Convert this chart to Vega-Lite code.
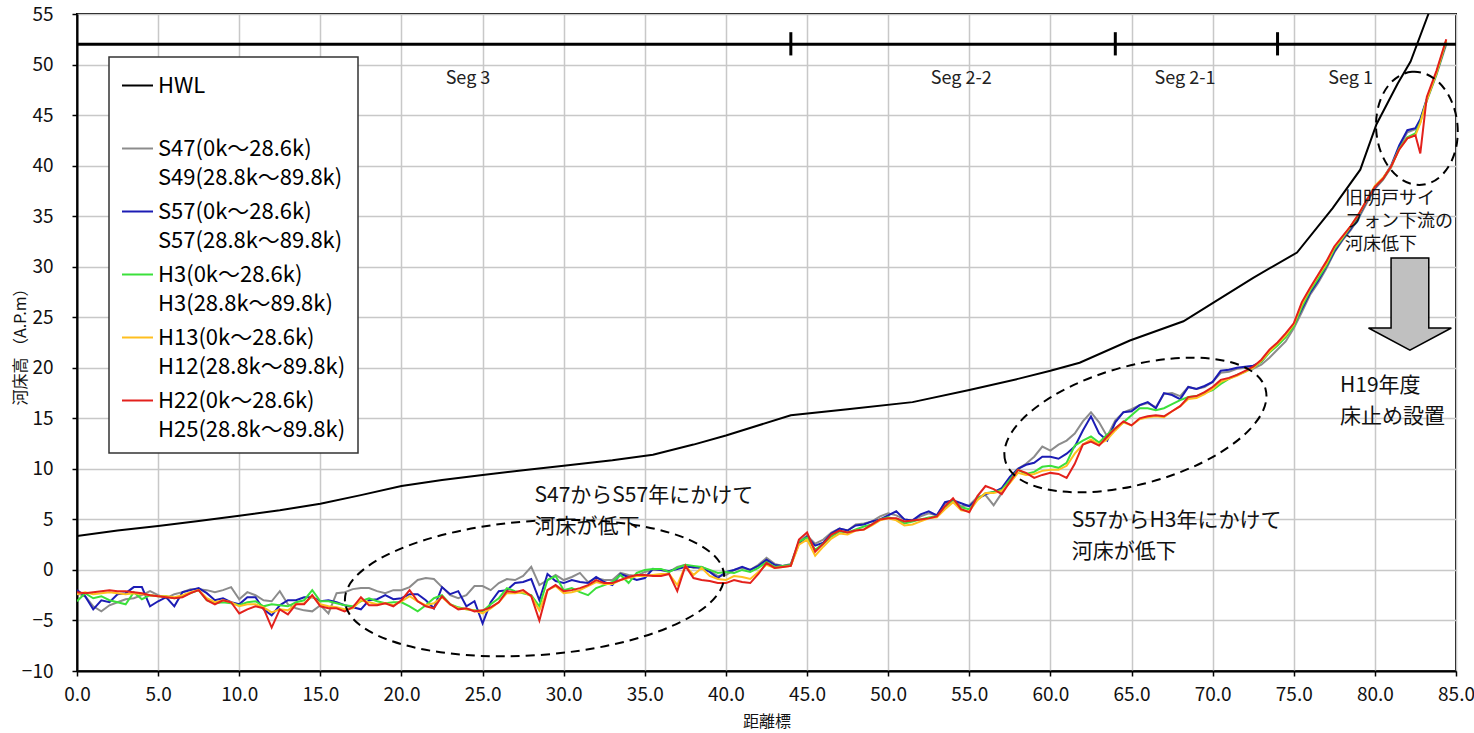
{
  "$schema": "https://vega.github.io/schema/vega-lite/v6.json",
  "width": 1379,
  "height": 657,
  "autosize": {"type": "none"},
  "padding": {"left": 77, "top": 14, "right": 18, "bottom": 62},
  "background": "white",
  "config": {
    "view": {"stroke": "#000", "strokeWidth": 2},
    "font": "Noto Sans CJK JP",
    "axis": {
      "grid": true, "gridColor": "#c8c8c8", "gridWidth": 1.5,
      "domainColor": "#000", "domainWidth": 2,
      "tickColor": "#000", "tickWidth": 1.5, "tickSize": 5,
      "labelFont": "Noto Sans CJK JP", "labelFontSize": 19, "labelColor": "#111",
      "labelFlush": false, "labelOverlap": false,
      "titleFont": "Noto Sans CJK JP", "titleFontSize": 15, "titleFontWeight": "normal", "titleColor": "#111"
    },
    "legend": {"strokeColor": "#333", "strokeWidth": 1.5, "fillColor": "#ffffff", "padding": 12},
    "style": {"guide-label": {"lineHeight": 29}}
  },
  "datasets": {
    "profiles": [
      {"x": 0, "HWL": 3.35}, {"x": 2.5, "HWL": 3.9}, {"x": 5, "HWL": 4.35}, {"x": 7.5, "HWL": 4.85},
      {"x": 10, "HWL": 5.35}, {"x": 12.5, "HWL": 5.9}, {"x": 15, "HWL": 6.55}, {"x": 17.5, "HWL": 7.4},
      {"x": 20, "HWL": 8.3}, {"x": 22.5, "HWL": 8.9}, {"x": 25, "HWL": 9.4}, {"x": 27.5, "HWL": 9.85},
      {"x": 30, "HWL": 10.3}, {"x": 33, "HWL": 10.85}, {"x": 35.5, "HWL": 11.4}, {"x": 38, "HWL": 12.4},
      {"x": 40, "HWL": 13.3}, {"x": 44, "HWL": 15.3}, {"x": 47.5, "HWL": 15.9}, {"x": 51.5, "HWL": 16.6},
      {"x": 55, "HWL": 17.8}, {"x": 58, "HWL": 18.9}, {"x": 60, "HWL": 19.7}, {"x": 61.8, "HWL": 20.5},
      {"x": 64.9, "HWL": 22.7}, {"x": 68.2, "HWL": 24.6}, {"x": 70, "HWL": 26.4}, {"x": 72.5, "HWL": 28.9},
      {"x": 75.2, "HWL": 31.4}, {"x": 77.4, "HWL": 35.8}, {"x": 79.1, "HWL": 39.6}, {"x": 80.1, "HWL": 44.1},
      {"x": 81.4, "HWL": 48.1}, {"x": 82.2, "HWL": 50.3}, {"x": 83.3, "HWL": 55.0}, {"x": 83.7, "HWL": 56.5},
      {"x": 0.0, "S47": -2.3, "S57": -2.0, "H3": -3.1, "H13": -2.4, "H22": -2.2},
      {"x": 0.5, "S47": -2.6, "S57": -2.6, "H3": -2.3, "H13": -2.2, "H22": -2.3},
      {"x": 1.0, "S47": -3.6, "S57": -3.9, "H3": -2.8, "H13": -2.4, "H22": -2.2},
      {"x": 1.5, "S47": -4.1, "S57": -3.0, "H3": -2.6, "H13": -2.3, "H22": -2.1},
      {"x": 2.0, "S47": -3.5, "S57": -3.2, "H3": -3.0, "H13": -2.2, "H22": -2.0},
      {"x": 2.5, "S47": -3.2, "S57": -2.4, "H3": -3.2, "H13": -2.3, "H22": -2.1},
      {"x": 3.0, "S47": -2.9, "S57": -2.3, "H3": -3.4, "H13": -2.4, "H22": -2.1},
      {"x": 3.5, "S47": -2.8, "S57": -1.7, "H3": -2.2, "H13": -2.3, "H22": -2.2},
      {"x": 4.0, "S47": -2.5, "S57": -1.7, "H3": -2.9, "H13": -2.4, "H22": -2.3},
      {"x": 4.5, "S47": -2.1, "S57": -3.6, "H3": -2.5, "H13": -2.5, "H22": -2.5},
      {"x": 5.0, "S47": -2.5, "S57": -3.1, "H3": -2.6, "H13": -2.6, "H22": -2.6},
      {"x": 5.5, "S47": -2.8, "S57": -2.7, "H3": -2.6, "H13": -2.6, "H22": -2.7},
      {"x": 6.0, "S47": -2.4, "S57": -3.6, "H3": -2.8, "H13": -2.7, "H22": -2.8},
      {"x": 6.5, "S47": -2.2, "S57": -2.2, "H3": -2.6, "H13": -2.5, "H22": -2.7},
      {"x": 7.0, "S47": -1.9, "S57": -2.0, "H3": -2.3, "H13": -2.2, "H22": -2.3},
      {"x": 7.5, "S47": -1.9, "S57": -1.8, "H3": -2.0, "H13": -2.0, "H22": -2.0},
      {"x": 8.0, "S47": -2.0, "S57": -2.3, "H3": -3.0, "H13": -2.8, "H22": -3.0},
      {"x": 8.5, "S47": -2.2, "S57": -3.0, "H3": -3.3, "H13": -3.2, "H22": -3.4},
      {"x": 9.0, "S47": -2.0, "S57": -2.8, "H3": -3.2, "H13": -3.0, "H22": -3.0},
      {"x": 9.5, "S47": -1.7, "S57": -3.2, "H3": -3.3, "H13": -3.2, "H22": -3.2},
      {"x": 10.0, "S47": -2.9, "S57": -3.4, "H3": -3.5, "H13": -3.6, "H22": -4.3},
      {"x": 10.5, "S47": -2.2, "S57": -2.7, "H3": -3.2, "H13": -3.4, "H22": -3.9},
      {"x": 11.0, "S47": -2.5, "S57": -2.7, "H3": -3.1, "H13": -3.4, "H22": -3.6},
      {"x": 11.5, "S47": -3.0, "S57": -3.9, "H3": -3.6, "H13": -3.7, "H22": -3.8},
      {"x": 12.0, "S47": -3.1, "S57": -4.5, "H3": -3.4, "H13": -4.2, "H22": -5.7},
      {"x": 12.5, "S47": -2.1, "S57": -3.5, "H3": -3.5, "H13": -3.9, "H22": -3.9},
      {"x": 13.0, "S47": -3.4, "S57": -3.0, "H3": -3.6, "H13": -4.0, "H22": -4.4},
      {"x": 13.5, "S47": -3.8, "S57": -3.0, "H3": -3.2, "H13": -3.4, "H22": -3.4},
      {"x": 14.0, "S47": -4.0, "S57": -2.7, "H3": -3.0, "H13": -3.3, "H22": -3.4},
      {"x": 14.5, "S47": -4.1, "S57": -2.7, "H3": -2.0, "H13": -2.6, "H22": -2.5},
      {"x": 15.0, "S47": -3.5, "S57": -3.1, "H3": -3.1, "H13": -3.4, "H22": -3.6},
      {"x": 15.5, "S47": -4.3, "S57": -3.0, "H3": -3.1, "H13": -3.6, "H22": -3.8},
      {"x": 16.0, "S47": -2.3, "S57": -3.2, "H3": -3.3, "H13": -3.7, "H22": -3.8},
      {"x": 16.5, "S47": -2.2, "S57": -3.5, "H3": -3.5, "H13": -3.9, "H22": -4.1},
      {"x": 17.0, "S47": -1.9, "S57": -3.7, "H3": -3.6, "H13": -3.8, "H22": -3.7},
      {"x": 17.5, "S47": -1.8, "S57": -3.9, "H3": -3.1, "H13": -3.0, "H22": -2.7},
      {"x": 18.0, "S47": -1.8, "S57": -3.0, "H3": -2.8, "H13": -3.2, "H22": -3.5},
      {"x": 18.5, "S47": -2.1, "S57": -2.9, "H3": -3.1, "H13": -3.4, "H22": -3.5},
      {"x": 19.0, "S47": -2.3, "S57": -2.5, "H3": -3.3, "H13": -3.3, "H22": -3.3},
      {"x": 19.5, "S47": -2.0, "S57": -2.9, "H3": -3.2, "H13": -3.5, "H22": -3.6},
      {"x": 20.0, "S47": -2.0, "S57": -2.8, "H3": -3.2, "H13": -3.1, "H22": -3.0},
      {"x": 20.5, "S47": -1.7, "S57": -2.4, "H3": -3.6, "H13": -2.6, "H22": -2.0},
      {"x": 21.0, "S47": -1.0, "S57": -2.4, "H3": -4.1, "H13": -3.1, "H22": -3.1},
      {"x": 21.5, "S47": -0.8, "S57": -3.0, "H3": -3.5, "H13": -3.5, "H22": -3.6},
      {"x": 22.0, "S47": -0.9, "S57": -3.8, "H3": -2.8, "H13": -3.3, "H22": -3.8},
      {"x": 22.5, "S47": -1.7, "S57": -1.7, "H3": -2.5, "H13": -2.7, "H22": -2.6},
      {"x": 23.0, "S47": -2.5, "S57": -2.4, "H3": -3.4, "H13": -3.4, "H22": -3.4},
      {"x": 23.5, "S47": -2.8, "S57": -2.1, "H3": -3.7, "H13": -3.8, "H22": -3.9},
      {"x": 24.0, "S47": -2.5, "S57": -3.6, "H3": -3.9, "H13": -3.9, "H22": -3.8},
      {"x": 24.5, "S47": -1.6, "S57": -3.1, "H3": -4.0, "H13": -4.0, "H22": -4.1},
      {"x": 25.0, "S47": -1.6, "S57": -5.3, "H3": -4.1, "H13": -4.3, "H22": -4.0},
      {"x": 25.5, "S47": -2.0, "S57": -3.2, "H3": -3.4, "H13": -3.8, "H22": -3.7},
      {"x": 26.0, "S47": -1.3, "S57": -2.1, "H3": -2.8, "H13": -3.2, "H22": -3.2},
      {"x": 26.5, "S47": -0.9, "S57": -2.0, "H3": -1.8, "H13": -2.3, "H22": -2.1},
      {"x": 27.0, "S47": -1.0, "S57": -1.3, "H3": -2.1, "H13": -2.3, "H22": -2.2},
      {"x": 27.5, "S47": -0.6, "S57": -1.2, "H3": -2.3, "H13": -2.2, "H22": -2.0},
      {"x": 28.0, "S47": 0.3, "S57": -0.9, "H3": -2.5, "H13": -2.6, "H22": -2.6},
      {"x": 28.5, "S47": -1.5, "S57": -3.0, "H3": -3.6, "H13": -4.0, "H22": -5.0},
      {"x": 29.0, "S47": -1.0, "S57": -0.4, "H3": -1.0, "H13": -2.0, "H22": -2.0},
      {"x": 29.5, "S47": -0.5, "S57": -1.1, "H3": -0.6, "H13": -1.6, "H22": -1.5},
      {"x": 30.0, "S47": -1.0, "S57": -1.3, "H3": -2.0, "H13": -2.3, "H22": -2.1},
      {"x": 30.5, "S47": -0.7, "S57": -1.0, "H3": -1.8, "H13": -2.2, "H22": -2.0},
      {"x": 31.0, "S47": -0.3, "S57": -1.2, "H3": -2.2, "H13": -2.0, "H22": -1.8},
      {"x": 31.5, "S47": -1.2, "S57": -1.3, "H3": -2.5, "H13": -1.6, "H22": -1.5},
      {"x": 32.0, "S47": -0.8, "S57": -0.7, "H3": -1.8, "H13": -1.2, "H22": -1.0},
      {"x": 32.5, "S47": -1.0, "S57": -1.2, "H3": -1.5, "H13": -1.4, "H22": -1.3},
      {"x": 33.0, "S47": -1.0, "S57": -1.5, "H3": -1.2, "H13": -1.4, "H22": -1.3},
      {"x": 33.5, "S47": -0.3, "S57": -0.4, "H3": -0.5, "H13": -1.0, "H22": -1.0},
      {"x": 34.0, "S47": -0.5, "S57": -0.7, "H3": -1.3, "H13": -0.8, "H22": -0.7},
      {"x": 34.5, "S47": -0.6, "S57": -1.0, "H3": -0.3, "H13": -0.6, "H22": -0.5},
      {"x": 35.0, "S47": -0.2, "S57": -0.8, "H3": 0.0, "H13": -0.6, "H22": -0.5},
      {"x": 35.5, "S47": 0.0, "S57": 0.1, "H3": 0.1, "H13": -0.5, "H22": -0.6},
      {"x": 36.0, "S47": 0.0, "S57": 0.0, "H3": 0.1, "H13": -0.4, "H22": -0.6},
      {"x": 36.5, "S47": -0.2, "S57": -0.1, "H3": -0.2, "H13": -0.4, "H22": -0.4},
      {"x": 37.0, "S47": 0.3, "S57": 0.1, "H3": 0.2, "H13": -1.5, "H22": -2.1},
      {"x": 37.5, "S47": 0.5, "S57": 0.3, "H3": 0.5, "H13": 0.4, "H22": 0.4},
      {"x": 38.0, "S47": 0.2, "S57": 0.3, "H3": 0.4, "H13": -0.5, "H22": -0.8},
      {"x": 38.5, "S47": 0.3, "S57": 0.2, "H3": 0.3, "H13": 0.2, "H22": -1.0},
      {"x": 39.0, "S47": -0.1, "S57": -0.2, "H3": 0.0, "H13": -0.6, "H22": -1.1},
      {"x": 39.5, "S47": -0.6, "S57": -0.8, "H3": -0.3, "H13": -0.9, "H22": -1.3},
      {"x": 40.0, "S47": -0.5, "S57": -0.2, "H3": -0.2, "H13": -1.0, "H22": -1.3},
      {"x": 40.5, "S47": 0.0, "S57": 0.0, "H3": -0.3, "H13": -0.6, "H22": -1.0},
      {"x": 41.0, "S47": 0.2, "S57": 0.3, "H3": 0.0, "H13": -0.7, "H22": -1.2},
      {"x": 41.5, "S47": 0.0, "S57": 0.0, "H3": -0.2, "H13": -0.9, "H22": -1.3},
      {"x": 42.0, "S47": 0.5, "S57": 0.4, "H3": 0.2, "H13": -0.2, "H22": -0.4},
      {"x": 42.5, "S47": 1.2, "S57": 1.0, "H3": 0.8, "H13": 0.5, "H22": 0.7},
      {"x": 43.0, "S47": 0.6, "S57": 0.5, "H3": 0.3, "H13": 0.2, "H22": 0.2},
      {"x": 43.5, "S47": 0.4, "S57": 0.4, "H3": 0.4, "H13": 0.3, "H22": 0.3},
      {"x": 44.0, "S47": 0.6, "S57": 0.5, "H3": 0.5, "H13": 0.4, "H22": 0.4},
      {"x": 44.5, "S47": 2.8, "S57": 2.6, "H3": 2.8, "H13": 2.5, "H22": 3.0},
      {"x": 45.0, "S47": 3.4, "S57": 3.3, "H3": 3.2, "H13": 3.0, "H22": 3.7},
      {"x": 45.5, "S47": 2.6, "S57": 2.4, "H3": 2.0, "H13": 1.4, "H22": 1.8},
      {"x": 46.0, "S47": 3.0, "S57": 2.7, "H3": 2.6, "H13": 2.3, "H22": 2.6},
      {"x": 46.5, "S47": 3.7, "S57": 3.6, "H3": 3.3, "H13": 3.1, "H22": 3.5},
      {"x": 47.0, "S47": 4.1, "S57": 4.1, "H3": 3.8, "H13": 3.6, "H22": 3.9},
      {"x": 47.5, "S47": 3.9, "S57": 3.9, "H3": 3.7, "H13": 3.5, "H22": 3.7},
      {"x": 48.0, "S47": 4.5, "S57": 4.4, "H3": 4.0, "H13": 3.9, "H22": 3.9},
      {"x": 48.5, "S47": 4.6, "S57": 4.5, "H3": 4.3, "H13": 4.0, "H22": 4.0},
      {"x": 49.0, "S47": 4.8, "S57": 4.8, "H3": 4.5, "H13": 4.4, "H22": 4.5},
      {"x": 49.5, "S47": 5.3, "S57": 5.0, "H3": 5.0, "H13": 4.9, "H22": 5.0},
      {"x": 50.0, "S47": 5.6, "S57": 5.4, "H3": 5.2, "H13": 5.1, "H22": 5.1},
      {"x": 50.5, "S47": 5.4, "S57": 5.8, "H3": 5.0, "H13": 4.9, "H22": 5.1},
      {"x": 51.0, "S47": 5.0, "S57": 5.0, "H3": 4.6, "H13": 4.4, "H22": 4.8},
      {"x": 51.5, "S47": 4.9, "S57": 4.9, "H3": 4.8, "H13": 4.5, "H22": 4.9},
      {"x": 52.0, "S47": 5.3, "S57": 5.5, "H3": 5.0, "H13": 4.8, "H22": 5.0},
      {"x": 52.5, "S47": 5.6, "S57": 5.8, "H3": 5.2, "H13": 5.1, "H22": 5.1},
      {"x": 53.0, "S47": 5.4, "S57": 5.4, "H3": 5.3, "H13": 5.2, "H22": 5.3},
      {"x": 53.5, "S47": 6.6, "S57": 6.7, "H3": 6.2, "H13": 6.0, "H22": 6.3},
      {"x": 54.0, "S47": 6.9, "S57": 6.9, "H3": 6.8, "H13": 6.7, "H22": 7.1},
      {"x": 54.5, "S47": 6.3, "S57": 6.6, "H3": 6.2, "H13": 5.9, "H22": 6.0},
      {"x": 55.0, "S47": 6.4, "S57": 6.3, "H3": 6.0, "H13": 5.8, "H22": 5.7},
      {"x": 55.5, "S47": 7.2, "S57": 7.0, "H3": 7.0, "H13": 6.9, "H22": 7.3},
      {"x": 56.0, "S47": 7.4, "S57": 7.5, "H3": 7.6, "H13": 7.6, "H22": 8.3},
      {"x": 56.5, "S47": 6.4, "S57": 7.7, "H3": 7.7, "H13": 7.6, "H22": 8.0},
      {"x": 57.0, "S47": 7.6, "S57": 8.1, "H3": 7.9, "H13": 7.8, "H22": 7.5},
      {"x": 57.5, "S47": 9.0, "S57": 9.2, "H3": 8.9, "H13": 8.6, "H22": 8.7},
      {"x": 58.0, "S47": 10.0, "S57": 10.0, "H3": 9.9, "H13": 9.6, "H22": 9.9},
      {"x": 58.5, "S47": 10.5, "S57": 10.4, "H3": 9.5, "H13": 9.4, "H22": 9.6},
      {"x": 59.0, "S47": 11.2, "S57": 10.6, "H3": 9.7, "H13": 9.5, "H22": 9.1},
      {"x": 59.5, "S47": 12.2, "S57": 11.2, "H3": 10.2, "H13": 9.8, "H22": 9.4},
      {"x": 60.0, "S47": 11.8, "S57": 11.2, "H3": 10.3, "H13": 9.9, "H22": 9.6},
      {"x": 60.5, "S47": 12.4, "S57": 11.0, "H3": 10.1, "H13": 9.9, "H22": 9.5},
      {"x": 61.0, "S47": 12.8, "S57": 11.5, "H3": 10.6, "H13": 10.3, "H22": 9.1},
      {"x": 61.5, "S47": 13.5, "S57": 12.2, "H3": 12.3, "H13": 11.5, "H22": 10.5},
      {"x": 62.0, "S47": 14.7, "S57": 13.8, "H3": 12.8, "H13": 12.4, "H22": 12.4},
      {"x": 62.5, "S47": 15.6, "S57": 15.2, "H3": 13.2, "H13": 12.9, "H22": 12.7},
      {"x": 63.0, "S47": 14.6, "S57": 13.5, "H3": 12.6, "H13": 12.4, "H22": 12.3},
      {"x": 63.5, "S47": 13.2, "S57": 12.8, "H3": 13.4, "H13": 12.9, "H22": 13.2},
      {"x": 64.0, "S47": 14.8, "S57": 14.6, "H3": 14.0, "H13": 13.8, "H22": 14.0},
      {"x": 64.5, "S47": 15.6, "S57": 15.6, "H3": 14.6, "H13": 14.6, "H22": 14.7},
      {"x": 65.0, "S47": 15.9, "S57": 15.7, "H3": 15.3, "H13": 14.3, "H22": 14.3},
      {"x": 65.5, "S47": 16.3, "S57": 16.3, "H3": 16.0, "H13": 14.9, "H22": 15.0},
      {"x": 66.0, "S47": 16.5, "S57": 16.6, "H3": 16.0, "H13": 15.1, "H22": 15.2},
      {"x": 66.5, "S47": 16.1, "S57": 16.0, "H3": 15.8, "H13": 15.2, "H22": 15.3},
      {"x": 67.0, "S47": 17.4, "S57": 17.5, "H3": 16.0, "H13": 15.1, "H22": 15.2},
      {"x": 67.5, "S47": 17.5, "S57": 17.3, "H3": 16.4, "H13": 15.7, "H22": 15.7},
      {"x": 68.0, "S47": 17.2, "S57": 16.9, "H3": 16.8, "H13": 16.2, "H22": 16.2},
      {"x": 68.5, "S47": 18.1, "S57": 18.1, "H3": 17.1, "H13": 16.9, "H22": 17.1},
      {"x": 69.0, "S47": 17.9, "S57": 17.9, "H3": 17.2, "H13": 17.0, "H22": 17.2},
      {"x": 69.5, "S47": 18.1, "S57": 18.2, "H3": 17.5, "H13": 17.4, "H22": 17.6},
      {"x": 70.0, "S47": 18.6, "S57": 18.6, "H3": 17.8, "H13": 17.9, "H22": 18.1},
      {"x": 70.5, "S47": 19.5, "S57": 19.7, "H3": 18.4, "H13": 18.6, "H22": 18.8},
      {"x": 71.0, "S47": 19.6, "S57": 19.8, "H3": 18.9, "H13": 18.9, "H22": 19.0},
      {"x": 71.5, "S47": 19.9, "S57": 20.0, "H3": 19.3, "H13": 19.2, "H22": 19.3},
      {"x": 72.0, "S47": 20.0, "S57": 20.1, "H3": 19.6, "H13": 19.6, "H22": 19.7},
      {"x": 72.5, "S47": 19.9, "S57": 20.2, "H3": 20.0, "H13": 20.0, "H22": 20.1},
      {"x": 73.0, "S47": 20.3, "S57": 20.6, "H3": 20.6, "H13": 20.7, "H22": 20.8},
      {"x": 73.5, "S47": 21.0, "S57": 21.6, "H3": 21.5, "H13": 21.6, "H22": 21.8},
      {"x": 74.0, "S47": 21.8, "S57": 22.4, "H3": 22.2, "H13": 22.4, "H22": 22.5},
      {"x": 74.5, "S47": 22.6, "S57": 23.2, "H3": 23.0, "H13": 23.2, "H22": 23.4},
      {"x": 75.0, "S47": 23.9, "S57": 24.2, "H3": 24.1, "H13": 24.3, "H22": 24.4},
      {"x": 75.5, "S47": 25.5, "S57": 25.8, "H3": 26.0, "H13": 26.3, "H22": 26.5},
      {"x": 76.0, "S47": 27.2, "S57": 27.4, "H3": 27.6, "H13": 27.8, "H22": 27.9},
      {"x": 76.5, "S47": 28.4, "S57": 28.6, "H3": 28.8, "H13": 29.1, "H22": 29.2},
      {"x": 77.0, "S47": 29.8, "S57": 30.0, "H3": 30.1, "H13": 30.3, "H22": 30.5},
      {"x": 77.5, "S47": 31.4, "S57": 31.5, "H3": 31.7, "H13": 31.9, "H22": 32.0},
      {"x": 78.0, "S47": 32.6, "S57": 32.7, "H3": 32.8, "H13": 32.9, "H22": 33.0},
      {"x": 78.5, "S47": 33.6, "S57": 33.7, "H3": 33.9, "H13": 34.0, "H22": 34.0},
      {"x": 79.0, "S47": 34.8, "S57": 35.0, "H3": 35.1, "H13": 35.2, "H22": 35.2},
      {"x": 79.5, "S47": 36.3, "S57": 36.5, "H3": 36.6, "H13": 36.6, "H22": 36.6},
      {"x": 80.0, "S47": 37.7, "S57": 37.8, "H3": 37.9, "H13": 38.0, "H22": 37.9},
      {"x": 80.5, "S47": 38.6, "S57": 38.7, "H3": 38.7, "H13": 38.8, "H22": 38.7},
      {"x": 81.0, "S47": 39.8, "S57": 40.0, "H3": 39.9, "H13": 39.9, "H22": 39.9},
      {"x": 81.5, "S47": 41.8, "S57": 42.0, "H3": 41.7, "H13": 41.6, "H22": 41.6},
      {"x": 82.0, "S47": 43.3, "S57": 43.5, "H3": 42.8, "H13": 42.7, "H22": 42.7},
      {"x": 82.5, "S47": 43.6, "S57": 43.7, "H3": 43.2, "H13": 43.0, "H22": 43.0},
      {"x": 82.8, "S47": 44.5, "S57": 44.6, "H3": 44.3, "H13": 44.2, "H22": 41.2},
      {"x": 83.2, "S47": 46.4, "S57": 46.6, "H3": 46.5, "H13": 46.5, "H22": 46.8},
      {"x": 83.8, "S47": 49.0, "S57": 49.2, "H3": 49.1, "H13": 49.2, "H22": 49.4},
      {"x": 84.4, "S47": 52.0, "S57": 52.2, "H3": 52.3, "H13": 52.4, "H22": 52.5}
    ]
  },
  "layer": [
    {
      "data": {"name": "profiles"},
      "transform": [
        {"fold": ["HWL", "S47", "S57", "H3", "H13", "H22"], "as": ["series", "y"]},
        {"filter": "isValid(datum.y)"}
      ],
      "mark": {"type": "line", "clip": true, "strokeWidth": 2},
      "encoding": {
        "x": {
          "field": "x", "type": "quantitative",
          "scale": {"domain": [0, 85], "nice": false, "zero": false},
          "axis": {
            "title": "距離標", "values": [0, 5, 10, 15, 20, 25, 30, 35, 40, 45, 50, 55, 60, 65, 70, 75, 80, 85],
            "format": ".1f", "labelPadding": 9, "titleY": 42, "titleBaseline": "top", "titleFontSize": 16
          }
        },
        "y": {
          "field": "y", "type": "quantitative",
          "scale": {"domain": [-10, 55], "nice": false, "zero": false},
          "axis": {
            "title": "河床高 （A.P.m）", "values": [-10, -5, 0, 5, 10, 15, 20, 25, 30, 35, 40, 45, 50, 55],
            "labelPadding": 19, "titleX": -57, "titleBaseline": "middle", "titleFontSize": 16
          }
        },
        "color": {
          "field": "series", "type": "nominal",
          "scale": {
            "domain": ["HWL", "S47", "S57", "H3", "H13", "H22"],
            "range": ["#000000", "#8c8c8c", "#1c1cb4", "#3be03b", "#ffbf1f", "#e3211c"]
          },
          "legend": {
            "orient": "none", "legendX": 32, "legendY": 43, "title": null,
            "symbolType": "stroke", "symbolSize": 961, "symbolStrokeWidth": 2,
            "labelFont": "Noto Sans CJK JP", "labelFontSize": 22, "labelColor": "#000",
            "labelLimit": 400, "labelOffset": 4, "rowPadding": 6,
            "labelExpr": "datum.value == 'HWL' ? ['HWL', ''] : datum.value == 'S47' ? ['S47(0k～28.6k)', 'S49(28.8k～89.8k)'] : datum.value == 'S57' ? ['S57(0k～28.6k)', 'S57(28.8k～89.8k)'] : datum.value == 'H3' ? ['H3(0k～28.6k)', 'H3(28.8k～89.8k)'] : datum.value == 'H13' ? ['H13(0k～28.6k)', 'H12(28.8k～89.8k)'] : ['H22(0k～28.6k)', 'H25(28.8k～89.8k)']",
            "encode": {"labels": {"lineHeight": {"value": 29}}}
          }
        }
      }
    },
    {
      "data": {"values": [{"x": 0, "x2": 85, "y": 52}]},
      "mark": {"type": "rule", "color": "#000", "strokeWidth": 3},
      "encoding": {
        "x": {"field": "x", "type": "quantitative", "scale": {"domain": [0, 85], "nice": false}},
        "x2": {"field": "x2"},
        "y": {"field": "y", "type": "quantitative", "scale": {"domain": [-10, 55], "nice": false}}
      }
    },
    {
      "data": {"values": [{"x": 44, "y": 50.9, "y2": 53.2}, {"x": 64, "y": 50.9, "y2": 53.2}, {"x": 74, "y": 50.9, "y2": 53.2}]},
      "mark": {"type": "rule", "color": "#000", "strokeWidth": 3},
      "encoding": {
        "x": {"field": "x", "type": "quantitative", "scale": {"domain": [0, 85], "nice": false}},
        "y": {"field": "y", "type": "quantitative", "scale": {"domain": [-10, 55], "nice": false}},
        "y2": {"field": "y2"}
      }
    },
    {
      "data": {"values": [
        {"x": 24.1, "y": 48.57, "label": "Seg 3"},
        {"x": 54.5, "y": 48.57, "label": "Seg 2-2"},
        {"x": 68.3, "y": 48.57, "label": "Seg 2-1"},
        {"x": 78.5, "y": 48.57, "label": "Seg 1"}
      ]},
      "mark": {"type": "text", "align": "center", "baseline": "middle", "fontSize": 18, "color": "#222", "font": "Noto Sans CJK JP"},
      "encoding": {
        "x": {"field": "x", "type": "quantitative", "scale": {"domain": [0, 85], "nice": false}},
        "y": {"field": "y", "type": "quantitative", "scale": {"domain": [-10, 55], "nice": false}},
        "text": {"field": "label"}
      }
    },
    {
      "data": {"values": [
        {"x": 28.2, "y": 8.39, "label": "S47からS57年にかけて\n河床が低下"},
        {"x": 61.31, "y": 5.96, "label": "S57からH3年にかけて\n河床が低下"},
        {"x": 77.85, "y": 19.32, "label": "H19年度\n床止め設置"}
      ]},
      "mark": {"type": "text", "align": "left", "baseline": "top", "fontSize": 21, "lineHeight": 31, "lineBreak": "\n", "color": "#111", "font": "Noto Sans CJK JP"},
      "encoding": {
        "x": {"field": "x", "type": "quantitative", "scale": {"domain": [0, 85], "nice": false}},
        "y": {"field": "y", "type": "quantitative", "scale": {"domain": [-10, 55], "nice": false}},
        "text": {"field": "label"}
      }
    },
    {
      "data": {"values": [{"x": 78.16, "y": 37.63, "label": "旧明戸サイ\nフォン下流の\n河床低下"}]},
      "mark": {"type": "text", "align": "left", "baseline": "top", "fontSize": 18, "lineHeight": 23, "lineBreak": "\n", "color": "#111", "font": "Noto Sans CJK JP"},
      "encoding": {
        "x": {"field": "x", "type": "quantitative", "scale": {"domain": [0, 85], "nice": false}},
        "y": {"field": "y", "type": "quantitative", "scale": {"domain": [-10, 55], "nice": false}},
        "text": {"field": "label"}
      }
    },
    {
      "data": {"values": [{"x": 28.2, "y": -1.8}]},
      "mark": {"type": "point", "shape": "M-1,0A1,0.353,0,1,1,1,0A1,0.353,0,1,1,-1,0Z", "size": 144400, "angle": -4, "filled": false, "stroke": "#000", "strokeWidth": 2, "strokeDash": [9, 6], "opacity": 1},
      "encoding": {
        "x": {"field": "x", "type": "quantitative", "scale": {"domain": [0, 85], "nice": false}},
        "y": {"field": "y", "type": "quantitative", "scale": {"domain": [-10, 55], "nice": false}}
      }
    },
    {
      "data": {"values": [{"x": 65.24, "y": 14.34}]},
      "mark": {"type": "point", "shape": "M-1,0A1,0.437,0,1,1,1,0A1,0.437,0,1,1,-1,0Z", "size": 72900, "angle": -15.5, "filled": false, "stroke": "#000", "strokeWidth": 2, "strokeDash": [9, 6], "opacity": 1},
      "encoding": {
        "x": {"field": "x", "type": "quantitative", "scale": {"domain": [0, 85], "nice": false}},
        "y": {"field": "y", "type": "quantitative", "scale": {"domain": [-10, 55], "nice": false}}
      }
    },
    {
      "data": {"values": [{"x": 82.59, "y": 43.69}]},
      "mark": {"type": "point", "shape": "M0,-1A0.718,1,0,1,1,0,1A0.718,1,0,1,1,0,-1Z", "size": 12860, "angle": -5, "filled": false, "stroke": "#000", "strokeWidth": 2, "strokeDash": [9, 6], "opacity": 1},
      "encoding": {
        "x": {"field": "x", "type": "quantitative", "scale": {"domain": [0, 85], "nice": false}},
        "y": {"field": "y", "type": "quantitative", "scale": {"domain": [-10, 55], "nice": false}}
      }
    },
    {
      "data": {"values": [{"x": 82.16, "y": 26.3}]},
      "mark": {"type": "point", "shape": "M-0.41,-1L0.41,-1L0.41,0.52L0.9,0.52L0,1L-0.9,0.52L-0.41,0.52Z", "size": 8464, "filled": true, "fill": "#c0c0c0", "stroke": "#000", "strokeWidth": 1.5, "opacity": 1},
      "encoding": {
        "x": {"field": "x", "type": "quantitative", "scale": {"domain": [0, 85], "nice": false}},
        "y": {"field": "y", "type": "quantitative", "scale": {"domain": [-10, 55], "nice": false}}
      }
    }
  ]
}
